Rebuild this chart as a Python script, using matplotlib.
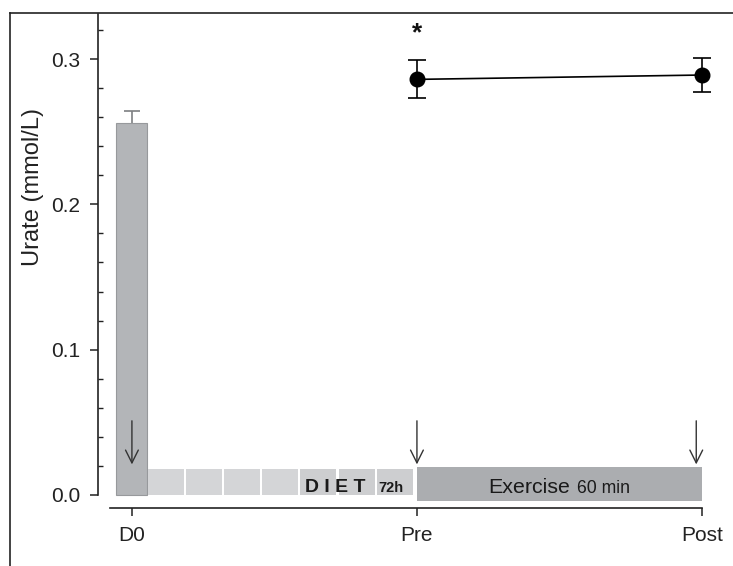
import matplotlib
matplotlib.use('Agg')
import matplotlib.pyplot as plt
from matplotlib.lines import Line2D
from matplotlib.ticker import MultipleLocator
import numpy as np

plt.rcParams['font.family'] = ['Liberation Sans', 'DejaVu Sans']

# ---- data ----
categories = ['D0', 'Pre', 'Post']
cat_x = [0, 1, 2]
baseline_x = [0]
baseline_value = [0.256]
baseline_err = [0.008]
line_x = [1, 2]
line_values = [0.286, 0.289]
line_err = [0.013, 0.012]
yticks = [0.0, 0.1, 0.2, 0.3]
ytick_labels = ['0.0', '0.1', '0.2', '0.3']
diet_span = [0.056, 0.993]
diet_cells = 7
diet_height = 0.018
exercise_span = [1.0, 2.0]
exercise_range = [-0.004, 0.019]
arrow_x = [0, 1, 1.98]
arrow_range = [0.051, 0.021]
signif_x = 1
signif_y = 0.313

fig = plt.figure(figsize=(7.33, 5.66), dpi=100)
ax = fig.add_axes([98/733, 58/566, 612.5/733, 494/566])
ax.set_xlim(-0.119, 2.03)
ax.set_ylim(-0.009, 0.331)

# D0 bar
ax.bar(baseline_x, baseline_value, width=0.109, color='#b3b5b8',
       edgecolor='#97999c', linewidth=0.8, zorder=2)
eb = ax.errorbar(baseline_x, baseline_value, yerr=[[0], baseline_err], fmt='none',
                 ecolor='#7d7f82', elinewidth=1.2, capsize=5.8, capthick=1.2, zorder=1)
eb[1][0].set_visible(False)

# Diet cells
edges = np.linspace(diet_span[0], diet_span[1], diet_cells + 1)
pitch = edges[1] - edges[0]
cell_colors = ['#d4d5d7'] * 4 + ['#cdced0'] * 3
ax.bar(edges[:-1], [diet_height] * diet_cells, width=pitch - 0.008, align='edge',
       color=cell_colors, edgecolor='none', zorder=2)
ax.text(0.607, 0.002, 'D I E T', ha='left', va='baseline', fontsize=14,
        fontweight='bold', color='#1a1a1a', zorder=4)
ax.text(0.863, 0.002, '72h', ha='left', va='baseline', fontsize=10.5,
        fontweight='bold', color='#1a1a1a', zorder=4)

# Exercise bar
ax.bar(exercise_span[0], exercise_range[1] - exercise_range[0], bottom=exercise_range[0],
       width=exercise_span[1] - exercise_span[0], align='edge', color='#abadb0',
       edgecolor='none', zorder=2)
ax.text(1.249, 0.0014, 'Exercise', ha='left', va='baseline', fontsize=15.4,
        color='#1a1a1a', zorder=4)
ax.text(1.561, 0.0014, '60 min', ha='left', va='baseline', fontsize=12.7,
        color='#1a1a1a', zorder=4)

# Arrows
for x in arrow_x:
    ax.annotate('', xy=(x, arrow_range[1]), xytext=(x, arrow_range[0]),
                arrowprops=dict(arrowstyle='->, head_length=0.4, head_width=0.2',
                                lw=1.0, color='#333333', mutation_scale=23,
                                shrinkA=0, shrinkB=0), zorder=5)

# Pre / Post points
ax.errorbar(line_x, line_values, yerr=line_err, fmt='-o', color='black', ms=10.5,
            lw=1.2, capsize=6.5, elinewidth=1.2, capthick=1.2, zorder=6, clip_on=False)
ax.text(signif_x, signif_y, '*', ha='center', va='baseline', fontsize=19,
        fontweight='bold', color='#111111')

# Axes styling
for s in ['top', 'right']:
    ax.spines[s].set_visible(False)
ax.spines['left'].set_bounds(0, 0.331)
ax.spines['bottom'].set_bounds(-0.077, 2.0)
for s in ['left', 'bottom']:
    ax.spines[s].set_linewidth(1.2)
    ax.spines[s].set_color('#222222')

ax.set_xticks(cat_x, categories)
ax.set_yticks(yticks, ytick_labels)
ax.yaxis.set_minor_locator(MultipleLocator(0.02))
ax.tick_params(axis='x', length=6, width=1.1, pad=7, labelsize=15,
               colors='#222222')
ax.tick_params(axis='y', which='major', length=6, width=1.1, pad=7, labelsize=15,
               colors='#222222', direction='out')
ax.tick_params(axis='y', which='minor', length=3.5, width=1.0, direction='in',
               colors='#222222')

ax.set_ylabel('Urate (mmol/L)', fontsize=17, color='#222222')
ax.yaxis.set_label_coords(-0.088, 0.65)

# figure frame (left and top edges)
fig.add_artist(Line2D([10/733, 10/733], [0, 1 - 12.5/566], transform=fig.transFigure,
                      color='#222222', lw=1.2))
fig.add_artist(Line2D([10/733, 1], [1 - 12.5/566, 1 - 12.5/566], transform=fig.transFigure,
                      color='#222222', lw=1.2))

fig.savefig('out.png', dpi=100)
